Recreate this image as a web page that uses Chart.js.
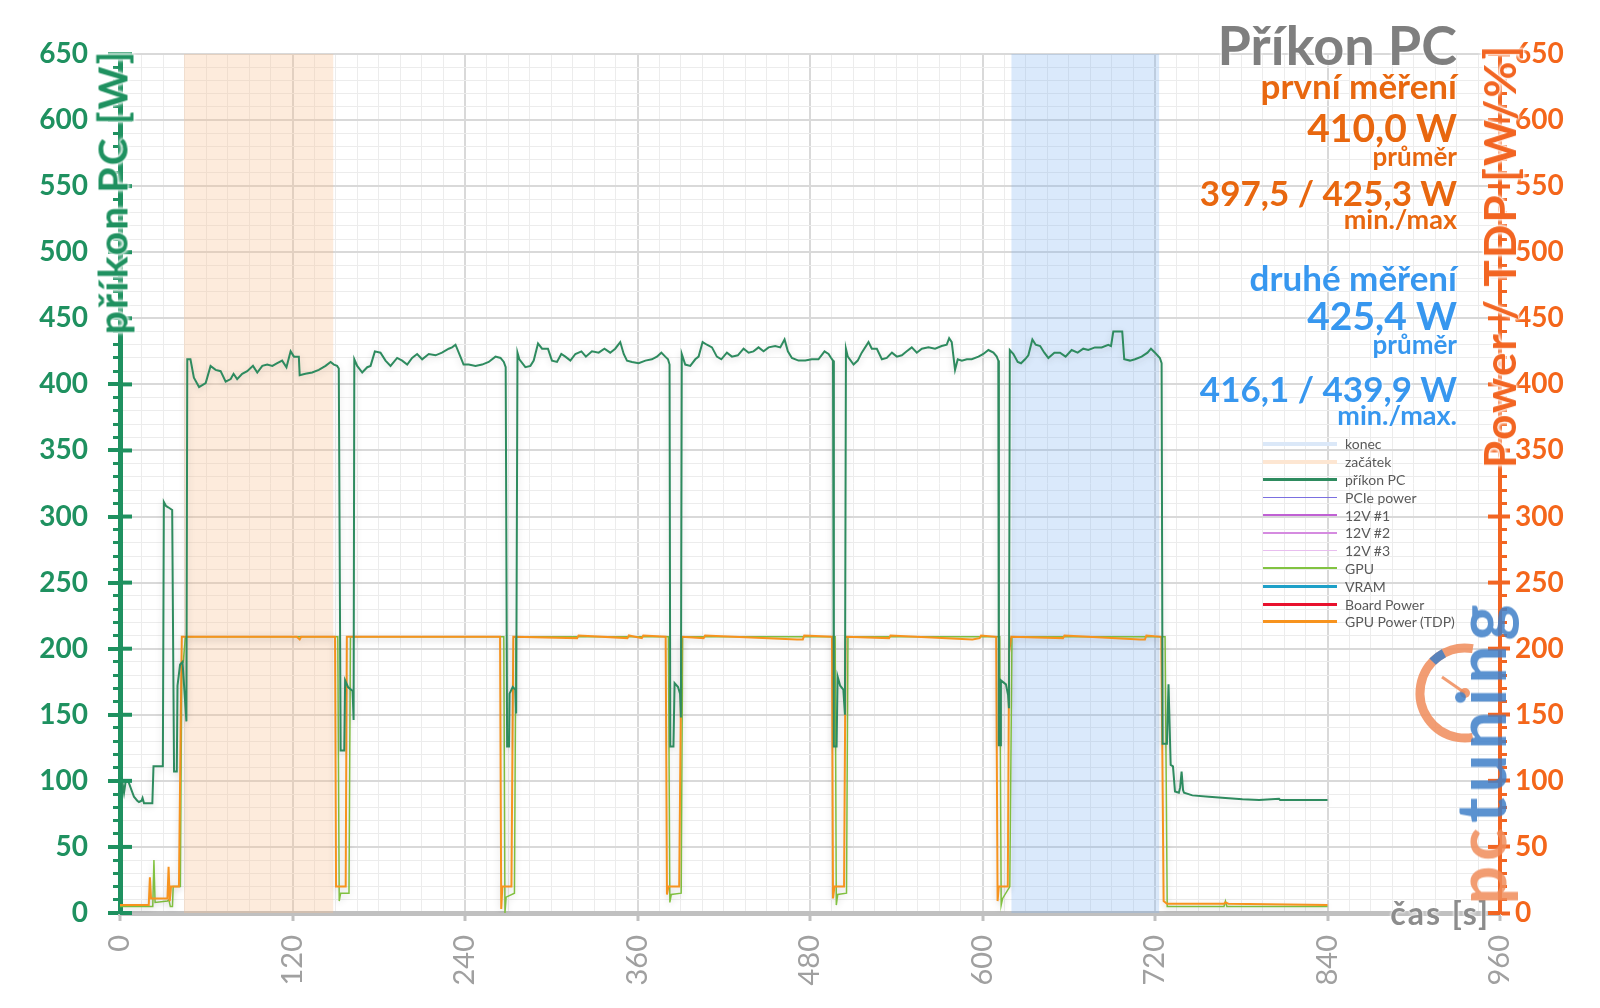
<!DOCTYPE html>
<html lang="cs">
<head>
<meta charset="UTF-8">
<title>Příkon PC</title>
<script src="https://cdn.jsdelivr.net/npm/chart.js@4.4.1/dist/chart.umd.min.js"></script>
<style>
  html, body { margin: 0; padding: 0; background: #fff; }
  #wrap { position: relative; width: 1600px; height: 1008px; overflow: hidden; font-family: Lato, 'Open Sans', sans-serif; }
  #wrap canvas { position: absolute; left: 0; top: 0; }
  /* text block top right */
  .note { position: absolute; right: 143px; font-weight: bold; line-height: 1; white-space: nowrap; text-align: right;
          text-shadow: 0 0 3px #fff, 0 0 3px #fff; }
  .grey { color: #7f7f7f; }
  .orange { color: #e8670f; }
  .blue { color: #3797ef; }
  .marker { display: inline-block; width: 0; height: 0; vertical-align: baseline; }
  .axis-title { position: absolute; font-weight: bold; line-height: 1; white-space: nowrap;
                transform: translate(-50%, -50%) rotate(-90deg);
                text-shadow: 0 0 4px #fff, 0 0 4px #fff, 0 0 3px #fff, 0 0 2px #fff; }
  /* legend */
  #legend { position: absolute; left: 1263px; top: 435px; margin: 0; padding: 0; list-style: none; }
  #legend li { height: 17.8px; display: flex; align-items: center; font-size: 14px; color: #595959; }
  #legend li span.ln { display: inline-block; width: 74px; margin-right: 8px; }
  /* logo */
  #logo { position: absolute; left: 1480px; top: 752px; font-size: 68px; font-weight: bold; line-height: 1; letter-spacing: 5px;
          transform: translate(-50%, -50%) rotate(-90deg); white-space: nowrap; opacity: 0.85; }
</style>
</head>
<body>
<div id="wrap">
  <canvas id="prikon" width="1600" height="1008"></canvas>

  <div class="note grey"   data-base="65"  style="font-size:54px">Příkon PC</div>
  <div class="note orange" data-base="99"  style="font-size:35px">první měření</div>
  <div class="note orange" data-base="142" style="font-size:39px">410,0 W</div>
  <div class="note orange" data-base="166" style="font-size:26px">průměr</div>
  <div class="note orange" data-base="206" style="font-size:35px">397,5 / 425,3 W</div>
  <div class="note orange" data-base="229" style="font-size:27px">min./max</div>
  <div class="note blue"   data-base="291" style="font-size:35px">druhé měření</div>
  <div class="note blue"   data-base="330" style="font-size:39px">425,4 W</div>
  <div class="note blue"   data-base="354" style="font-size:26px">průměr</div>
  <div class="note blue"   data-base="402" style="font-size:35px">416,1 / 439,9 W</div>
  <div class="note blue"   data-base="425" style="font-size:27px">min./max.</div>
  <div class="note" data-base="925" style="font-size:32px; right:110px; color:#8c8c8c; letter-spacing:2px">čas [s]</div>

  <div class="axis-title" style="left:112px; top:192px; font-size:41px; letter-spacing:2px; color:#1f9160">příkon PC [W]</div>
  <div class="axis-title" style="left:1499px; top:256px; font-size:44px; letter-spacing:2px; color:#f26522">Power / TDP [W/%]</div>

  <ul id="legend"></ul>
  <div id="logo"><span style="color:#f08c5a">pc</span><span style="color:#3f7fc8">tuning</span></div>
</div>

<script>
// ---- data (time in s, power in W) ----
const zacatekRange = [44.5, 148.5];
const konecRange = [620, 723];

const pcTime = [0, 1.5, 2.8, 4, 6, 8, 9.7, 12, 13.2, 15, 15.7, 16.7, 22.5, 23.3, 29.8, 30.5, 32, 33.5, 36.3, 37.6, 39.5, 40, 41.8, 43.5, 46.2,
  46.8, 49, 51.4, 55, 59.6, 63, 66.5, 70, 73.5, 77, 79, 81.5, 85, 88.5, 92.5, 95.5, 99, 102.4, 106, 109.4, 112.8, 115.8, 118.7, 121, 124.4, 125, 129, 133.7, 138.3, 143, 146.5, 148.8, 151, 152.2,
  153.5, 156, 156.6, 158.6, 161.8, 162.5,
  163, 165, 168.5, 172, 174.3, 177.3, 181.2, 184.7, 188.2, 192.8, 196.3, 199.8, 203.2, 206.7, 210.2, 214.8, 219.5, 224, 228.7, 231, 233.4, 236.8, 239, 242.6, 247.3, 251.9, 256.5, 261.2, 264.7, 267, 268.3,
  269.3, 270.6, 271, 273.2, 275, 275.6,
  276.5, 277.8, 282, 285.5, 287.8, 290.8, 293.6, 297.7, 300.5, 304, 307, 309.8, 313.3, 316.8, 321, 324.1, 328.3, 333, 337, 341, 344.5, 348, 350.4, 352.7, 356.2, 360.8, 365.5, 370, 373.5, 376.6, 379.3, 381.2, 382.3,
  382.8, 385, 385.8, 388.2, 389.6, 390.2,
  390.8, 393.2, 396.7, 400.2, 402.5, 405.3, 408.3, 411.8, 415.2, 418.3, 422.2, 425.7, 429.8, 433.8, 437.3, 440.7, 444.2, 447.7, 451.2, 455.8, 459.3, 462.3, 464.6, 467.4, 472, 476.7, 481.3, 485.9, 490.1, 492.9, 494.7, 496,
  496.6, 498.5, 499.2, 501, 503.2, 504.3,
  505, 506.3, 510.3, 513.2, 516, 520.7, 523, 526.5, 530, 533.4, 537, 540.4, 543.9, 547.3, 550.8, 554.3, 557.8, 562.4, 567, 571.6, 575.1, 576.8, 578.6, 580.9, 582.8, 585.6, 589.1, 592.5, 597.2, 600.6, 604.1, 607.6, 609.9, 611,
  611.4, 612.3, 612.8, 616.3, 617.8, 618.4,
  619, 621.5, 624.5, 626.8, 629.6, 631.9, 634.7, 637, 640.1, 643, 645.8, 650, 653.9, 657.8, 662, 666.2, 670.1, 673.6, 678.2, 682.9, 687.5, 689.4, 691, 697.2, 698.6, 702.6, 706.1, 710.7, 714.8, 717.2, 720, 723.4, 724.6,
  725.3, 728.3, 729.4, 730.9, 732.5, 733.9, 736.6, 737.5, 738.5, 739.5, 740.2, 746, 757.5, 769, 780.8, 792.4, 806.3, 807, 815.5, 840];
const pcWatts = [101, 100, 91, 100, 99, 93, 88, 85, 84, 85, 87, 83, 83, 111, 111, 311, 308, 307, 305, 107, 107, 172, 188, 190, 145,
  419, 419, 405, 398, 401, 414, 411, 410, 402, 404, 408, 404, 408, 410, 414, 409, 414, 415, 414, 416, 418, 413, 425, 421, 421, 407, 408, 409, 411, 414, 417, 415, 414, 412,
  123, 123, 176, 171, 168, 146,
  419, 414, 409, 413, 414, 425, 424, 418, 414, 420, 418, 415, 420, 423, 419, 423, 422, 424, 427, 428, 430, 421, 415, 415, 414, 415, 417, 421, 420, 417, 413,
  126, 126, 166, 171, 169, 151,
  424, 419, 413, 414, 418, 431, 427, 427, 418, 417, 423, 421, 418, 423, 425, 421, 425, 424, 427, 424, 427, 432, 423, 418, 417, 416, 418, 419, 421, 424, 421, 419, 415,
  126, 126, 174, 171, 166, 148,
  423, 415, 414, 419, 421, 432, 430, 428, 421, 419, 424, 421, 422, 427, 424, 425, 428, 425, 428, 429, 428, 434, 425, 420, 418, 418, 419, 419, 425, 423, 420, 418,
  126, 126, 179, 172, 169, 150,
  427, 421, 415, 418, 424, 432, 427, 427, 419, 420, 424, 421, 422, 425, 428, 424, 427, 428, 427, 429, 430, 435, 432, 411, 419, 418, 419, 419, 421, 423, 426, 424, 421, 418,
  127, 127, 176, 173, 165, 155,
  426, 423, 417, 416, 419, 422, 434, 430, 429, 424, 420, 424, 424, 421, 426, 424, 427, 426, 428, 428, 430, 429, 440, 440, 419, 418, 419, 421, 424, 427, 424, 420, 416,
  128, 128, 173, 112, 111, 92, 91, 95, 107, 93, 91, 89, 88, 87, 86, 85.6, 86.4, 85.6, 85.6, 85.6];

const gpuTime = [0, 20, 22.8, 23.6, 24.4, 33, 34, 35, 36.5, 37, 42, 43, 44, 45.5,
  151.5, 152.5, 153.5, 159.3, 160.3,
  267, 267.8, 268.6, 274.4, 275.4,
  381.5, 382.5, 383.5, 390.4, 391.4,
  497.5, 498.3, 499.3, 505.4, 506.4,
  612, 613, 614, 619, 620.5,
  727, 728.5, 768, 769, 770, 840];
const gpuWatts = [5, 5, 5, 40, 8, 9, 10, 5, 5, 20, 20, 190, 190, 209,
  209, 9, 15, 15, 209,
  209, 0, 12, 15, 209,
  209, 8, 14, 15, 209,
  209, 6, 14, 15, 209,
  209, 6, 11, 20, 209,
  209, 5, 5, 9, 5, 5];

const tdpTime = [0, 20, 20.8, 21.6, 33, 33.8, 34.6, 35.5, 41, 42.3, 43, 123, 125, 126, 149.6,
  150.3, 157, 157.8, 264.4,
  265.2, 266, 272.3, 273.6, 318, 319, 353, 354, 363, 364, 379.6,
  380.5, 381.5, 389, 390.6, 406, 407, 471, 475, 476, 495.3,
  496, 497, 503.7, 504.8, 535, 536, 593, 598, 599, 609.5,
  610.5, 611.3, 617.6, 618.5, 620, 656, 657, 709.6, 713, 714, 724.4,
  726, 728.3, 768, 769, 771, 840];
const tdpWatts = [6, 6, 27, 11, 11, 35, 9, 20, 20, 150, 209, 209, 207, 209, 209,
  20, 20, 209, 209,
  3, 20, 20, 209, 208, 210, 208, 210, 208, 210, 209,
  14, 20, 20, 209, 208, 210, 207, 207, 210, 209,
  11, 20, 20, 209, 208, 210, 207, 208, 210, 209,
  9, 20, 20, 197, 209, 208, 210, 207, 207, 210, 209,
  9, 7, 7, 8, 7, 6];

const toPoints = (t, v) => t.map((x, i) => ({ x: x, y: v[i] }));
const band = r => [{ x: r[0], y: 650 }, { x: r[1], y: 650 }];

const GREEN = '#1f9160', ORANGE = '#f26522';

// minor grid lines: skip the positions where a major line already is
const minorGrid = step => c => (c.tick && c.tick.value % step === 0) ? 'rgba(0,0,0,0)' : '#ececec';

// soft shadow under the measured lines (not under the two bands)
const lineShadow = {
  id: 'lineShadow',
  beforeDatasetDraw(chart, args) {
    if (chart.data.datasets[args.index].fill) return;
    const ctx = chart.ctx;
    ctx.save();
    ctx.shadowColor = 'rgba(0,0,0,0.16)';
    ctx.shadowBlur = 7;
    ctx.shadowOffsetY = 2;
  },
  afterDatasetDraw(chart, args) {
    if (chart.data.datasets[args.index].fill) return;
    chart.ctx.restore();
  }
};

// major ticks cross the y axes into the plot
const axisMarks = {
  id: 'axisMarks',
  afterDatasetsDraw(chart) {
    const { ctx, chartArea } = chart;
    const y = chart.scales.y, y1 = chart.scales.y1;
    ctx.save();
    ctx.lineWidth = 4;
    ctx.strokeStyle = GREEN;
    y.ticks.forEach(t => {
      const py = y.getPixelForValue(t.value);
      ctx.beginPath(); ctx.moveTo(chartArea.left, py); ctx.lineTo(chartArea.left + 12, py); ctx.stroke();
    });
    ctx.strokeStyle = ORANGE;
    y1.ticks.forEach(t => {
      const py = y1.getPixelForValue(t.value);
      ctx.beginPath(); ctx.moveTo(chartArea.right, py); ctx.lineTo(chartArea.right - 12, py); ctx.stroke();
    });
    ctx.restore();
  }
};

// clock part of the pctuning logo
const logoClock = {
  id: 'logoClock',
  afterDraw(chart) {
    const ctx = chart.ctx, cx = 1465, cy = 693, r = 45, d = Math.PI / 180;
    ctx.save();
    ctx.globalAlpha = 0.85;
    ctx.lineWidth = 9;
    ctx.strokeStyle = '#f08c5a';
    ctx.beginPath(); ctx.arc(cx, cy, r, -80 * d, 80 * d, true); ctx.stroke();
    ctx.strokeStyle = '#3f7fc8';
    ctx.beginPath(); ctx.arc(cx, cy, r, -136 * d, -118 * d); ctx.stroke();
    ctx.strokeStyle = '#f08c5a';
    ctx.lineWidth = 3;
    ctx.beginPath(); ctx.moveTo(cx, cy); ctx.lineTo(cx - 23, cy - 16); ctx.stroke();
    ctx.fillStyle = '#f08c5a';
    ctx.beginPath(); ctx.arc(cx, cy, 5, 0, 2 * Math.PI); ctx.fill();
    ctx.restore();
  }
};

const datasets = [
  { label: 'konec', data: band(konecRange), yAxisID: 'y', fill: 'origin', borderColor: 'rgba(0,0,0,0)', borderWidth: 0,
    backgroundColor: 'rgba(120,175,240,0.27)', legendColor: '#dbe8f8', legendWidth: 4, order: 10 },
  { label: 'začátek', data: band(zacatekRange), yAxisID: 'y', fill: 'origin', borderColor: 'rgba(0,0,0,0)', borderWidth: 0,
    backgroundColor: 'rgba(248,190,140,0.30)', legendColor: '#fde6d2', legendWidth: 4, order: 10 },
  { label: 'příkon PC', data: toPoints(pcTime, pcWatts), yAxisID: 'y', borderColor: '#2e8b5f', borderWidth: 2, legendWidth: 3, order: 0 },
  { label: 'PCIe power', data: [], yAxisID: 'y1', borderColor: '#7b6fe0', borderWidth: 1.5, order: 3 },
  { label: '12V #1', data: [], yAxisID: 'y1', borderColor: '#c061d4', borderWidth: 1.5, order: 3 },
  { label: '12V #2', data: [], yAxisID: 'y1', borderColor: '#d58be0', borderWidth: 1.3, order: 3 },
  { label: '12V #3', data: [], yAxisID: 'y1', borderColor: '#e8bdef', borderWidth: 1.3, order: 3 },
  { label: 'GPU', data: toPoints(gpuTime, gpuWatts), yAxisID: 'y1', borderColor: '#82c341', borderWidth: 1.5, legendWidth: 2, order: 2 },
  { label: 'VRAM', data: [], yAxisID: 'y1', borderColor: '#1ea0c8', borderWidth: 3.5, order: 3 },
  { label: 'Board Power', data: [], yAxisID: 'y1', borderColor: '#e8112d', borderWidth: 3, order: 3 },
  { label: 'GPU Power (TDP)', data: toPoints(tdpTime, tdpWatts), yAxisID: 'y1', borderColor: '#f7931e', borderWidth: 2, legendWidth: 3, order: 1 }
];

const chart = new Chart(document.getElementById('prikon'), {
  type: 'line',
  data: { datasets: datasets },
  options: {
    responsive: false,
    animation: false,
    devicePixelRatio: 1,
    layout: { padding: { top: 54, left: 0, right: 0, bottom: 0 } },
    elements: { point: { radius: 0 }, line: { tension: 0 } },
    plugins: { legend: { display: false }, tooltip: { enabled: false } },
    scales: {
      xMinor: {
        type: 'linear', position: 'bottom', weight: 0, min: 0, max: 960,
        ticks: { display: false, stepSize: 15 },
        grid: { color: minorGrid(120), lineWidth: 1, drawTicks: false },
        border: { display: false },
        afterFit: s => { s.height = 0; }
      },
      x: {
        type: 'linear', position: 'bottom', weight: 1, min: 0, max: 960,
        ticks: { stepSize: 120, maxRotation: 90, minRotation: 90, padding: 14, color: '#a0a0a0',
                 font: { family: 'Lato', size: 29 } },
        grid: { color: '#d9d9d9', lineWidth: 2, tickLength: 8, tickColor: '#c0c0c0', tickWidth: 3 },
        border: { color: '#c0c0c0', width: 5 },
        afterFit: s => { s.height = 95; }
      },
      yMinor: {
        type: 'linear', position: 'left', weight: 0, min: 0, max: 650,
        ticks: { display: false, stepSize: 10 },
        grid: { color: minorGrid(50), lineWidth: 1, tickLength: 7, tickColor: GREEN, tickWidth: 3 },
        border: { display: false },
        afterFit: s => { s.width = 0; }
      },
      y: {
        type: 'linear', position: 'left', weight: 1, min: 0, max: 650,
        ticks: { stepSize: 50, padding: 20, color: GREEN, font: { family: 'Lato', size: 28, weight: 'bold' } },
        grid: { color: '#d9d9d9', lineWidth: 2, tickLength: 12, tickColor: GREEN, tickWidth: 4 },
        border: { color: GREEN, width: 5 },
        afterFit: s => { s.width = 120; }
      },
      y1Minor: {
        type: 'linear', position: 'right', weight: 0, min: 0, max: 650,
        ticks: { display: false, stepSize: 10 },
        grid: { drawOnChartArea: false, tickLength: 7, tickColor: ORANGE, tickWidth: 3 },
        border: { display: false },
        afterFit: s => { s.width = 0; }
      },
      y1: {
        type: 'linear', position: 'right', weight: 1, min: 0, max: 650,
        ticks: { stepSize: 50, padding: 5, color: '#f4661b', font: { family: 'Lato', size: 28, weight: 'bold' } },
        grid: { drawOnChartArea: false, tickLength: 10, tickColor: ORANGE, tickWidth: 4 },
        border: { color: ORANGE, width: 4 },
        afterFit: s => { s.width = 100; }
      }
    }
  },
  plugins: [lineShadow, axisMarks, logoClock]
});

// legend list built from the datasets
const ul = document.getElementById('legend');
chart.data.datasets.forEach(ds => {
  const li = document.createElement('li');
  const w = ds.legendWidth || ds.borderWidth;
  li.innerHTML = '<span class="ln" style="height:' + w + 'px; background:' + (ds.legendColor || ds.borderColor) + '"></span>' + ds.label;
  ul.appendChild(li);
});

// put every note on its baseline
document.querySelectorAll('.note').forEach(el => {
  const m = document.createElement('span');
  m.className = 'marker';
  el.appendChild(m);
  el.style.top = '0px';
  const base = m.offsetTop;
  el.style.top = (Number(el.dataset.base) - base) + 'px';
});
</script>
</body>
</html>
